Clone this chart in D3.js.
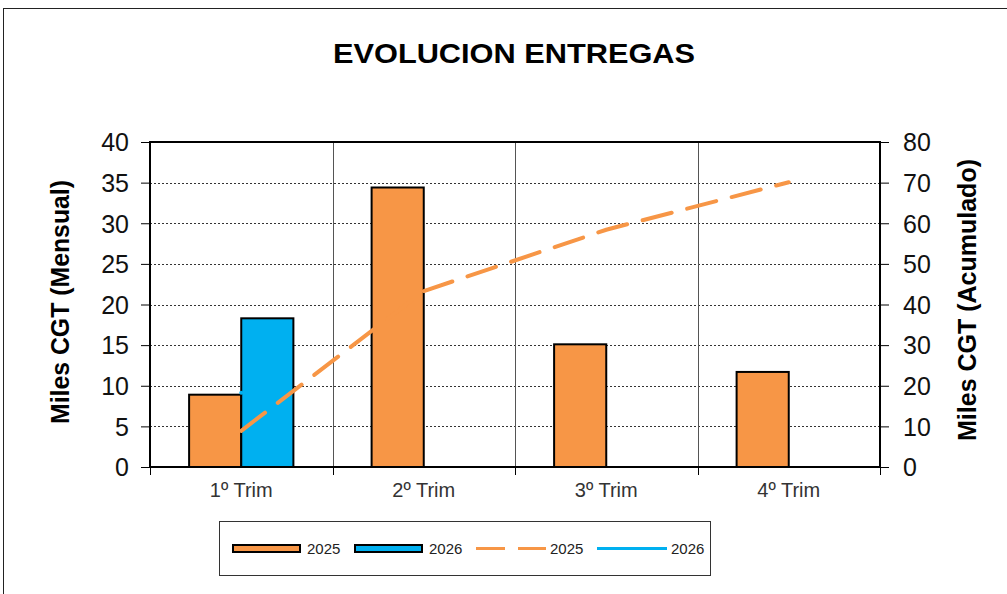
<!DOCTYPE html>
<html>
<head>
<meta charset="utf-8">
<script src="https://cdn.jsdelivr.net/npm/d3@7"></script>
<style>
  body { margin: 0; background: #fff; }
  text { font-family: "Liberation Sans", Arial, sans-serif; }
</style>
</head>
<body>
<svg id="chart" width="1007" height="594"></svg>
<script>
// Data
var categories = ['1º Trim', '2º Trim', '3º Trim', '4º Trim'];
var mensual2025 = [8.9, 34.4, 15.1, 11.7];
var mensual2026 = [18.3, null, null, null];
var acumulado2025 = [8.9, 43.3, 58.4, 70.1];
var acumulado2026 = [18.3, null, null, null];
var leftTicks = [0, 5, 10, 15, 20, 25, 30, 35, 40];
var rightTicks = [0, 10, 20, 30, 40, 50, 60, 70, 80];

var ORANGE = '#F79646', BLUE = '#00B0F0';
var svg = d3.select('#chart');
var M = { left: 150, right: 880, top: 142, bottom: 467 };

// Outer frame
svg.append('rect').attr('x', 3.5).attr('y', 8.5).attr('width', 1010).attr('height', 600)
  .attr('fill', 'none').attr('stroke', '#222').attr('stroke-width', 1);

// Title
svg.append('text').attr('x', 514).attr('y', 63).attr('text-anchor', 'middle')
  .attr('font-size', 28).attr('font-weight', 'bold')
  .attr('textLength', 362).attr('lengthAdjust', 'spacingAndGlyphs').text('EVOLUCION ENTREGAS');

var x = d3.scaleBand().domain(categories).range([M.left, M.right]);
var xs = d3.scaleBand().domain(['2025', '2026']).range([0, x.bandwidth()]).paddingOuter(0.75);
var yL = d3.scaleLinear().domain([0, 40]).range([M.bottom, M.top]);
var yR = d3.scaleLinear().domain([0, 80]).range([M.bottom, M.top]);

// Horizontal dotted grid
svg.append('g').selectAll('line').data(leftTicks.slice(1, -1)).join('line')
  .attr('x1', M.left).attr('x2', M.right)
  .attr('y1', function(d) { return Math.round(yL(d)) + 0.5; })
  .attr('y2', function(d) { return Math.round(yL(d)) + 0.5; })
  .attr('stroke', '#333').attr('stroke-width', 1).attr('stroke-dasharray', '2,2');

// Vertical grid at category boundaries
svg.append('g').selectAll('line').data(categories.slice(1)).join('line')
  .attr('x1', function(d) { return Math.round(x(d)) + 0.5; })
  .attr('x2', function(d) { return Math.round(x(d)) + 0.5; })
  .attr('y1', M.top).attr('y2', M.bottom)
  .attr('stroke', '#555').attr('stroke-width', 1);

// Bars
function bars(vals, key, color) {
  svg.append('g').selectAll('rect').data(vals.map(function(v, i) { return { c: categories[i], v: v }; })
    .filter(function(d) { return d.v != null; })).join('rect')
    .attr('x', function(d) { return x(d.c) + xs(key); })
    .attr('width', xs.bandwidth())
    .attr('y', function(d) { return yL(d.v); })
    .attr('height', function(d) { return yL(0) - yL(d.v); })
    .attr('fill', color).attr('stroke', '#000').attr('stroke-width', 2);
}
bars(mensual2025, '2025', ORANGE);
bars(mensual2026, '2026', BLUE);

// Cumulative lines
function cumLine(vals, color, dash) {
  var pts = vals.map(function(v, i) { return { c: categories[i], v: v }; }).filter(function(d) { return d.v != null; });
  var line = d3.line().x(function(d) { return x(d.c) + x.bandwidth() / 2; }).y(function(d) { return yR(d.v); });
  svg.append('path').datum(pts).attr('d', line).attr('fill', 'none')
    .attr('stroke', color).attr('stroke-width', 4).attr('stroke-linecap', 'round')
    .attr('stroke-dasharray', dash);
}
cumLine(acumulado2025, ORANGE, '30,16');
cumLine(acumulado2026, BLUE, null);

// Plot frame
svg.append('rect').attr('x', M.left).attr('y', M.top).attr('width', M.right - M.left).attr('height', M.bottom - M.top)
  .attr('fill', 'none').attr('stroke', '#000').attr('stroke-width', 2);

// Axes
var axL = svg.append('g').attr('transform', 'translate(' + M.left + ',0)')
  .call(d3.axisLeft(yL).tickValues(leftTicks).tickSize(9).tickPadding(12));
var axR = svg.append('g').attr('transform', 'translate(' + M.right + ',0)')
  .call(d3.axisRight(yR).tickValues(rightTicks).tickSize(9).tickPadding(14));
[axL, axR].forEach(function(a) {
  a.select('.domain').remove();
  a.selectAll('line').attr('stroke', '#000').attr('stroke-width', 1);
  a.selectAll('text').attr('font-size', 25).attr('fill', '#111').attr('dy', '0.35em')
    .attr('font-family', '"Liberation Sans", Arial, sans-serif');
});
var axB = svg.append('g').attr('transform', 'translate(0,' + M.bottom + ')');
axB.selectAll('line').data(categories.concat(['end'])).join('line')
  .attr('x1', function(d, i) { return Math.round(M.left + i * x.bandwidth()) + 0.5; })
  .attr('x2', function(d, i) { return Math.round(M.left + i * x.bandwidth()) + 0.5; })
  .attr('y1', 0).attr('y2', 8).attr('stroke', '#000');
axB.selectAll('text').data(categories).join('text')
  .attr('x', function(d) { return x(d) + x.bandwidth() / 2; }).attr('y', 30)
  .attr('text-anchor', 'middle').attr('font-size', 20).attr('fill', '#333').text(function(d) { return d; });

// Axis titles
svg.append('text').attr('transform', 'translate(69,302) rotate(-90)').attr('text-anchor', 'middle')
  .attr('font-size', 25).attr('font-weight', 'bold')
  .attr('textLength', 244).attr('lengthAdjust', 'spacingAndGlyphs').text('Miles CGT (Mensual)');
svg.append('text').attr('transform', 'translate(976,300) rotate(-90)').attr('text-anchor', 'middle')
  .attr('font-size', 25).attr('font-weight', 'bold')
  .attr('textLength', 282).attr('lengthAdjust', 'spacingAndGlyphs').text('Miles CGT (Acumulado)');

// Legend
var lg = svg.append('g');
lg.append('rect').attr('x', 219.5).attr('y', 521.5).attr('width', 491).attr('height', 54)
  .attr('fill', '#fff').attr('stroke', '#333').attr('stroke-width', 1);
var legendItems = [
  { label: '2025', type: 'bar', color: ORANGE, x: 233 },
  { label: '2026', type: 'bar', color: BLUE, x: 355 },
  { label: '2025', type: 'dash', color: ORANGE, x: 476 },
  { label: '2026', type: 'line', color: BLUE, x: 597 }
];
legendItems.forEach(function(it) {
  if (it.type === 'bar') {
    lg.append('rect').attr('x', it.x).attr('y', 545).attr('width', 67).attr('height', 7)
      .attr('fill', it.color).attr('stroke', '#000').attr('stroke-width', 2);
  } else {
    lg.append('line').attr('x1', it.x).attr('x2', it.x + 70).attr('y1', 548.5).attr('y2', 548.5)
      .attr('stroke', it.color).attr('stroke-width', 3)
      .attr('stroke-dasharray', it.type === 'dash' ? '29,13' : null);
  }
  lg.append('text').attr('x', it.x + 74).attr('y', 554).attr('font-size', 15).attr('fill', '#222').text(it.label);
});
</script>
</body>
</html>
